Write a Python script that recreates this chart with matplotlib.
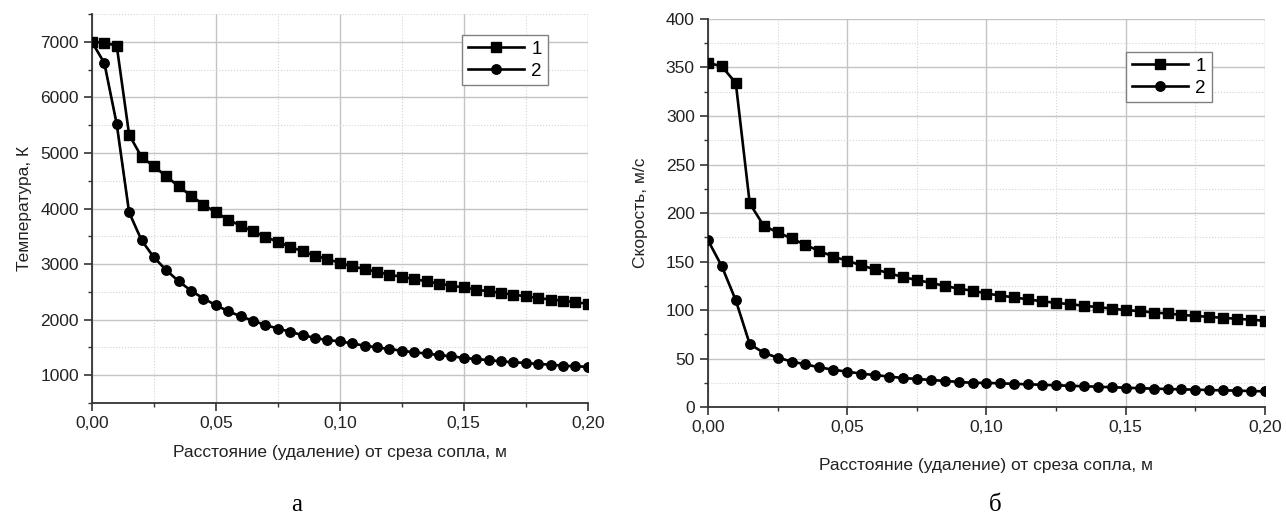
import matplotlib.pyplot as plt
from matplotlib.ticker import MultipleLocator, FuncFormatter

plt.rcParams['font.family'] = ['Liberation Sans', 'DejaVu Sans']

# расстояние от среза сопла, м (шаг 0,005)
x = [i * 0.005 for i in range(41)]

t_1 = [7000, 6990, 6930, 5330, 4930, 4760, 4580, 4400, 4230, 4070, 3930,
       3800, 3690, 3590, 3490, 3400, 3310, 3230, 3150, 3090, 3020,
       2960, 2910, 2860, 2810, 2770, 2730, 2690, 2650, 2610, 2580,
       2540, 2510, 2480, 2450, 2420, 2390, 2360, 2340, 2310, 2290]
t_2 = [7000, 6620, 5520, 3930, 3430, 3120, 2890, 2690, 2520, 2380, 2260,
       2150, 2060, 1980, 1900, 1840, 1780, 1720, 1670, 1630, 1610,
       1570, 1530, 1500, 1470, 1440, 1410, 1390, 1360, 1340, 1310,
       1290, 1270, 1250, 1230, 1220, 1200, 1190, 1170, 1160, 1150]

v_1 = [355, 351, 334, 210, 187, 180, 174, 167, 161, 155, 151,
       146, 142, 138, 134, 131, 128, 125, 122, 120, 117,
       115, 113, 111, 109, 107.5, 106, 104.5, 103, 101.5, 100,
       99, 97.5, 96.5, 95, 94, 93, 92, 91, 90, 89]
v_2 = [172, 145, 110, 65, 56, 51, 47, 44, 41, 38.5, 36.5,
       34.5, 33, 31.5, 30, 29, 28, 27, 26, 25, 25,
       24.5, 24, 23.5, 23, 22.5, 22, 21.5, 21, 20.5, 20,
       19.5, 19, 18.7, 18.3, 18, 17.6, 17.3, 17, 16.6, 16.3]

labels = ['1', '2']
xlabel = 'Расстояние (удаление) от среза сопла, м'

fig = plt.figure(figsize=(12.86, 5.26), dpi=100)
ax1 = fig.add_axes([0.0715, 0.234, 0.3855, 0.739])
ax2 = fig.add_axes([0.5505, 0.226, 0.4332, 0.738])

comma = FuncFormatter(lambda v, p: f'{v:.2f}'.replace('.', ','))


def draw(ax, y1, y2, ylabel, ylim, ymaj, ymin, leg_anchor, xpad, ypad):
    ax.plot(x, y2, color='#d01010', lw=1.2, zorder=2)
    ax.plot(x, y1, color='black', lw=1.9, marker='s', ms=6.8, label=labels[0], zorder=3)
    ax.plot(x, y2, color='black', lw=1.9, marker='o', ms=6.8, label=labels[1], zorder=3)
    ax.set_xlim(0, 0.2)
    ax.set_ylim(*ylim)
    ax.xaxis.set_major_locator(MultipleLocator(0.05))
    ax.xaxis.set_minor_locator(MultipleLocator(0.025))
    ax.yaxis.set_major_locator(MultipleLocator(ymaj))
    ax.yaxis.set_minor_locator(MultipleLocator(ymin))
    ax.xaxis.set_major_formatter(comma)
    ax.grid(which='major', color='#c4c4c4', lw=1.0)
    ax.grid(which='minor', color='#d4d4d4', lw=0.8, ls=':')
    ax.set_axisbelow(True)
    for s in ['top', 'right']:
        ax.spines[s].set_visible(False)
    for s in ['left', 'bottom']:
        ax.spines[s].set_linewidth(1.3)
        ax.spines[s].set_color('#333333')
    ax.tick_params(which='major', length=6, width=1.2, labelsize=12.5, colors='#333333', labelcolor='#222222')
    ax.tick_params(which='minor', length=3, width=1.0, colors='#333333')
    ax.set_xlabel(xlabel, fontsize=12.5, color='#222222', labelpad=xpad)
    ax.set_ylabel(ylabel, fontsize=12.5, color='#222222', labelpad=ypad)
    ax.legend(loc='upper left', bbox_to_anchor=leg_anchor, bbox_transform=fig.transFigure,
              fontsize=13.5, frameon=True, fancybox=False, edgecolor='#808080',
              framealpha=1, handlelength=3.0, borderpad=0.3, labelspacing=0.25,
              handletextpad=0.4, borderaxespad=0)


draw(ax1, t_1, t_2, 'Температура, К', (500, 7500), 1000, 500,
     (462 / 1286, 1 - 35 / 526), 10, 6)
draw(ax2, v_1, v_2, 'Скорость, м/с', (0, 400), 50, 25,
     (1126 / 1286, 1 - 52 / 526), 16, 13)

fig.text(297 / 1286, 1 - 505 / 526, 'а', fontsize=18, family='Liberation Serif', ha='center', va='center')
fig.text(995 / 1286, 1 - 505 / 526, 'б', fontsize=18, family='Liberation Serif', ha='center', va='center')

fig.savefig('out.png', dpi=100)
